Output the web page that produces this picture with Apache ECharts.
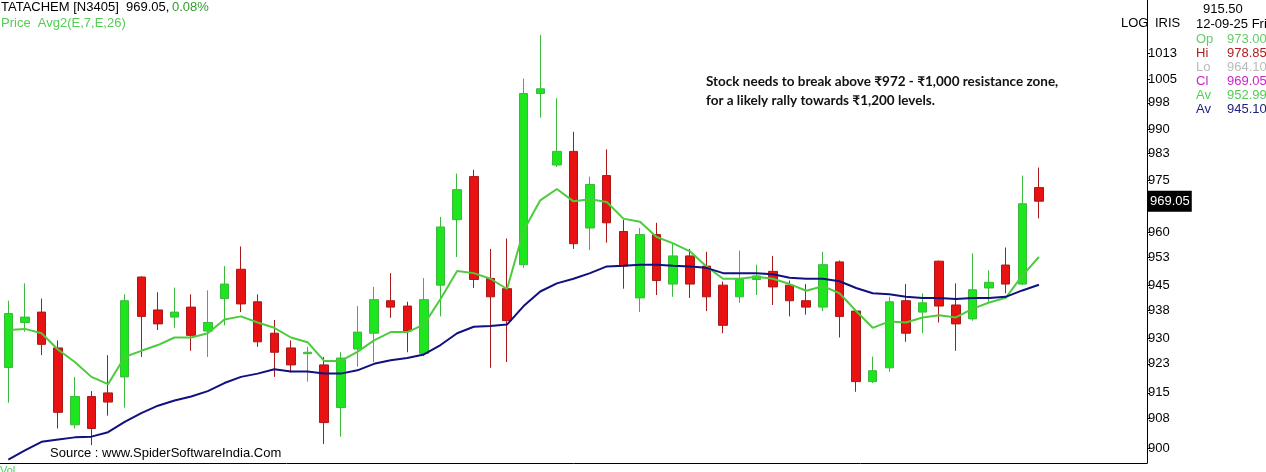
<!DOCTYPE html>
<html>
<head>
<meta charset="utf-8">
<script src="https://cdn.jsdelivr.net/npm/echarts@6/dist/echarts.min.js"></script>
<style>html,body{margin:0;padding:0;background:#fff}#chart{width:1266px;height:472px}</style>
</head>
<body>
<div id="chart"></div>
<script>
// daily candles: open, high, low, close
var opens  = [922,934.5,937.4,927.4,906.3,914,915,919.4,947.3,938,936,938.8,932.1,941.2,949.5,940.3,931.5,927.4,925.8,922.7,911,927.1,931.5,940.6,939.1,925.9,945,963.7,976.2,946.9,944,950.8,1000.8,979.6,983.6,961.3,976.5,960.3,941.4,959.4,945.3,953.3,950.4,945,941.7,946.6,948.9,945,940.6,938.8,951.6,937.7,918.1,921.9,940.6,937.4,951.8,939.4,935.5,944.2,950.7,945.3,973];
var highs  = [940.6,945.5,941.2,929.5,919.4,915.5,925.4,942.4,947.5,943,944.3,942.4,943.5,950.4,956,942.4,935.2,929.5,927.7,924.9,926.2,939.1,944.5,948.4,940.3,947,964.5,977.1,978.2,955.3,958.3,1005.3,1018.5,999.4,989.4,976.2,984.2,963.7,961.3,962.8,956.8,955.3,954.5,946,954.8,950.8,953.3,946.3,945.3,954.5,952,938.2,925,941.7,945.3,942.7,952,945.5,954,949.2,955.7,976.5,978.85];
var lows   = [912.3,931.9,925.4,905.3,905.3,900.8,908.8,911,924.9,932.4,933,926.6,924.9,933.7,937.4,927.7,919.4,920.6,918.1,901.1,903.1,922.2,923.5,935.8,926.2,925.1,936.2,953,944.2,921.9,923.5,949.9,993.6,979,955.3,955,957.1,944,937.4,942.2,941.7,941.4,937.7,931.5,940,942.2,939.4,936.2,936.7,937.7,930.3,915.3,917.7,920.8,929.1,931.5,934.5,926.6,935,940.3,942.7,945,964.1];
var closes = [937,936,928.4,909.7,914,905.3,912.5,940.6,936.2,934.1,937.4,930.9,934.5,945.3,939.7,929.1,926.2,922.7,926.2,906.9,924.6,931.8,940.9,938.8,932.1,940.9,961.6,972.4,946.6,941.7,935,1000.8,1002.2,983.6,956.8,973.9,962.8,950.4,959.4,946.3,953.3,945.3,941.7,933.7,946.6,947.6,944.5,940.6,938.8,950.8,936.2,918.1,921.1,940.3,931.5,940,939.1,934.1,943.7,945.8,945.3,968.3,969.05];
var ema7  = [932.4,932.7,931.5,926.9,923.5,919.4,917.4,924.9,926.6,928.2,930.3,930.3,931.5,935.3,936.2,934.5,933,930.3,929,923.8,923.8,926.3,929.5,931.8,931.8,933.9,941.1,949,948.4,946.8,943.9,960.6,969.3,972.6,969,969.6,968.8,964,963.1,958.7,956.9,954.6,950.3,946.8,946.8,947.4,946.8,945.3,943.4,944.7,942.7,937.7,933,934.8,934.5,935.9,936.5,935.9,938.3,940.1,941.4,947.7,952.99];
var ema26 = [896.9,899.4,901.7,902.3,902.9,903.1,904.3,907.1,909.5,911.5,912.9,914,915.5,917.7,919.4,920.3,921.5,920.9,920.9,920.3,920.3,921.2,923,924,924.6,925.6,928.2,931.5,933.3,933.5,933.9,939.1,943.2,945.5,946.8,948.4,950.3,950.5,950.8,950.8,950.5,950.3,949.9,948.4,948.4,948.4,948.1,947.1,946.8,946.8,946.1,944.2,942.7,942.4,941.7,941.4,941.4,941.1,941.4,941.4,941.7,943.5,945.1];
var tickLabels = [900,908,915,923,930,938,945,953,960,975,983,990,998,1005,1013];
var lastClose = 969.05;
var emptySlots = 6; // blank space right of the last candle

var ln = Math.log;
var days = [];
for (var i = 0; i < opens.length + emptySlots; i++) days.push(i + 1);
var candles = opens.map(function (o, i) {
    return [ln(o), ln(closes[i]), ln(lows[i]), ln(highs[i])];
});
var tickVals = tickLabels.map(ln);

var chart = echarts.init(document.getElementById('chart'));
var font = '"Liberation Sans"';
function txt(x, y, s, c, f) {
    return { type: 'text', left: x, top: y, style: { text: s, fill: c, font: f || ('13px ' + font) } };
}
var option = {
    animation: false,
    backgroundColor: '#fff',
    grid: { left: 0, right: 119, top: 0, bottom: 9 },
    xAxis: {
        type: 'category', data: days, boundaryGap: true,
        axisLine: { show: true, lineStyle: { color: '#000', width: 1 } },
        axisTick: { show: false }, axisLabel: { show: false }, splitLine: { show: false },
        axisPointer: { show: false }
    },
    yAxis: {
        type: 'value', position: 'right', scale: true,
        min: ln(896.0), max: ln(1029.2),
        axisLine: { show: true, lineStyle: { color: '#000' } },
        axisTick: { show: true, inside: false, length: 3, customValues: tickVals, lineStyle: { color: '#000' } },
        axisLabel: {
            customValues: tickVals, margin: 1, color: '#000', fontFamily: font, fontSize: 13,
            formatter: function (v) { return String(Math.round(Math.exp(v))); }
        },
        splitLine: { show: false },
        axisPointer: {
            show: true, type: 'line', value: ln(lastClose), status: 'show', triggerTooltip: false,
            lineStyle: { opacity: 0 },
            label: {
                show: true, margin: 1, formatter: function () { return lastClose.toFixed(2); },
                color: '#fff', backgroundColor: '#000', padding: [4, 2, 4, 2], borderRadius: 0,
                fontFamily: font, fontSize: 13, shadowBlur: 0
            },
            handle: { show: false }
        }
    },
    axisPointer: { triggerOn: 'none' },
    series: [
        {
            type: 'candlestick', data: candles, barWidth: 9,
            itemStyle: { color: '#1ee61e', color0: '#e81212', borderColor: '#3cb83c', borderColor0: '#a81818', borderWidth: 1 }
        },
        { type: 'line', data: ema7.map(ln), symbol: 'none', lineStyle: { color: '#4ccc3c', width: 2 } },
        { type: 'line', data: ema26.map(ln), symbol: 'none', lineStyle: { color: '#101080', width: 2 } }
    ],
    graphic: [
        txt(1, 1, 'TATACHEM [N3405]  969.05,', '#000'),
        txt(172, 1, '0.08%', '#2e9e2e'),
        txt(1, 17, 'Price  Avg2(E,7,E,26)', '#55cc55'),
        txt(706, 75, 'Stock needs to break above \u20b9972 - \u20b91,000 resistance zone,', '#111', 'bold 13.5px Lato'),
        txt(706, 94, 'for a likely rally towards \u20b91,200 levels.', '#111', 'bold 13.5px Lato'),
        txt(50, 447, 'Source : www.SpiderSoftwareIndia.Com', '#000'),
        txt(0, 465, 'Vol', '#55cc55', '11px ' + font),
        txt(1121, 17, 'LOG', '#000'),
        txt(1155, 17, 'IRIS', '#000'),
        txt(1203, 3, '915.50', '#000'),
        txt(1196, 18, '12-09-25 Fri', '#000'),
        txt(1196, 33, 'Op', '#66cc66'), txt(1227, 33, '973.00', '#66cc66'),
        txt(1196, 47, 'Hi', '#b02020'), txt(1227, 47, '978.85', '#b02020'),
        txt(1196, 61, 'Lo', '#bbbbbb'), txt(1227, 61, '964.10', '#bbbbbb'),
        txt(1196, 75, 'Cl', '#cc22cc'), txt(1227, 75, '969.05', '#cc22cc'),
        txt(1196, 89, 'Av', '#55cc55'), txt(1227, 89, '952.99', '#55cc55'),
        txt(1196, 103, 'Av', '#202080'), txt(1227, 103, '945.10', '#202080')
    ]
};
chart.setOption(option);
</script>
</body>
</html>
